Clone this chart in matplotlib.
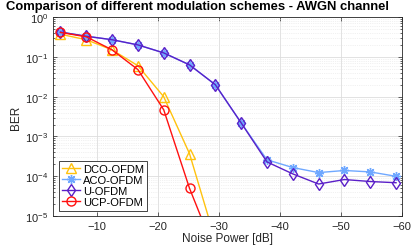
import numpy as np
import matplotlib
matplotlib.use('Agg')
import matplotlib.pyplot as plt
from matplotlib.ticker import LogLocator, NullFormatter

plt.rcParams['font.family'] = ['Liberation Sans', 'DejaVu Sans']

noise_db = np.linspace(-4, -59, 14)

dco = [0.37, 0.27, 0.15, 0.06, 0.01, 3.7e-4, 2.5e-6]
aco = [0.42, 0.33, 0.27, 0.20, 0.126, 0.063, 0.02, 0.0022,
       2.6e-4, 1.66e-4, 1.24e-4, 1.4e-4, 1.29e-4, 1.0e-4]
uofdm = [0.42, 0.33, 0.27, 0.20, 0.126, 0.063, 0.02, 0.0022,
         2.3e-4, 1.15e-4, 6.4e-5, 8.3e-5, 7.4e-5, 6.9e-5]
ucp = [0.41, 0.32, 0.15, 0.048, 0.0047, 5e-5, 1.2e-6]

fig = plt.figure(figsize=(4.15, 2.51), dpi=100)
ax = fig.add_axes([0.128, 0.135, 0.841, 0.793])

ax.semilogy(noise_db[:len(dco)], dco, '-^', color='#FFC20E', lw=1.0, ms=6.5,
            mfc='none', mew=1.0, label='DCO-OFDM')
ax.semilogy(noise_db, aco, '-', marker=(8, 2, 0), color='#6FA8FF', lw=1.0, ms=6.5,
            mew=1.0, label='ACO-OFDM')
ax.semilogy(noise_db, uofdm, '-d', color='#5A1FC8', lw=1.0, ms=6.5,
            mfc='none', mew=1.0, label='U-OFDM')
ax.semilogy(noise_db[:len(ucp)], ucp, '-o', color='#FF1010', lw=1.0, ms=6.5,
            mfc='none', mew=1.0, label='UCP-OFDM')

ax.set_xlim(-2.8, -60)
ax.set_ylim(1e-5, 1)
ax.set_xticks([-10, -20, -30, -40, -50, -60])
ax.yaxis.set_minor_locator(LogLocator(base=10, subs=np.arange(2, 10)))
ax.yaxis.set_minor_formatter(NullFormatter())

ax.grid(True, which='major', color='#dddddd', lw=0.6)
ax.grid(True, which='minor', axis='y', color='#e4e4e4', lw=0.5, ls=':')
ax.set_axisbelow(True)
ax.tick_params(which='both', direction='in', top=True, right=True,
               labelsize=8, colors='#262626', width=0.5)
ax.tick_params(which='major', length=3)
ax.tick_params(which='minor', length=1.5)
for s in ax.spines.values():
    s.set_color('#262626')
    s.set_linewidth(0.6)

ax.set_xlabel('Noise Power [dB]', fontsize=8.5, color='#262626', labelpad=1)
ax.set_ylabel('BER', fontsize=8.5, color='#262626', labelpad=2)
fig.text(0.475, 0.995, 'Comparison of different modulation schemes - AWGN channel',
         ha='center', va='top', fontsize=9.4, fontweight='bold')

leg = ax.legend(loc='lower left', fontsize=8, handlelength=1.6,
                handletextpad=0.3, borderpad=0.3, labelspacing=0.1,
                fancybox=False, edgecolor='#262626', framealpha=1,
                borderaxespad=0.5)
leg.get_frame().set_linewidth(0.6)

fig.savefig('out.png', dpi=100)
